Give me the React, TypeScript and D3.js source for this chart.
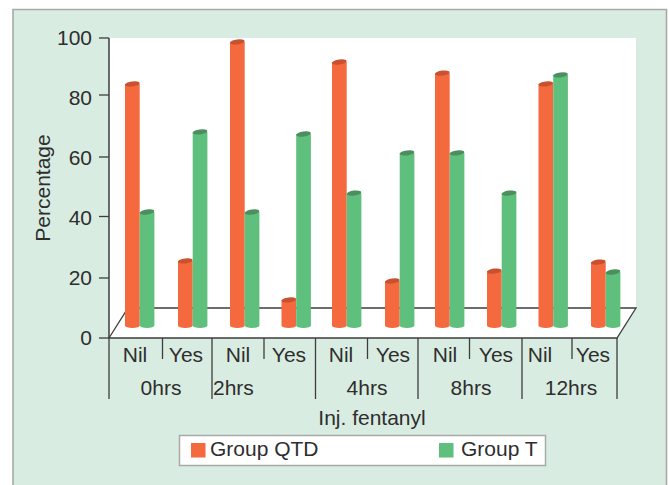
import React from "react";
import * as d3 from "d3";

const times = ["0hrs", "2hrs", "4hrs", "8hrs", "12hrs"];
const answers = ["Nil", "Yes", "Nil", "Yes", "Nil", "Yes", "Nil", "Yes", "Nil", "Yes"];
const groupQTD = [84.7, 25.7, 98.7, 12.7, 92, 19, 88.3, 22.3, 84.7, 25.3];
const groupT = [42, 68.7, 42, 68, 48.3, 61.7, 61.7, 48.3, 87.7, 22];
const yTicks = [0, 20, 40, 60, 80, 100];

const FONT = "'Liberation Sans', Arial, sans-serif";
const INK = "#2e2e2e";
const PANEL = "#d9ece1";
const BORDER = "#a8aaa9";
const ORANGE = "#f4693e";
const ORANGE_TOP = "#c9512f";
const GREEN = "#5fbf7c";
const GREEN_TOP = "#4c8f5e";

const plot = { left: 109, right: 617, top: 38, bottom: 338, depthX: 19, depthY: 30 };
const barWidth = 14.7;
const barFloor = 325.5;

const y = d3.scaleLinear().domain([0, 100]).range([plot.bottom, plot.top]);
const slots = d3.scaleBand<number>().domain(d3.range(10)).range([98.5, 616.5]);

// Hand-set layout: slot nudges, tick-mark drift and the dividers under the axis
const slotNudge = [0, 1.2, 1.4, 1.1, -0.2, 1, -0.8, -0.6, -0.9, -0.2];
const tickDrift = [0, 0, -1.5, -1, -3, 0];
const minorDividers = [162.5, 264, 367.5, 469.5, 572];
const majorDividers = [109, 212, 315.5, 418, 522, 617];
const answerLabelX = [135, 186, 238, 289, 341, 393, 445, 496, 540, 593];
const timeLabelX = [161, 213, 367, 471, 571];
const timeLabelAnchor = ["middle", "start", "middle", "middle", "middle"];

function Bar({ x, value, fill, top }: { x: number; value: number; fill: string; top: string }) {
  const yTop = y(value);
  const rx = barWidth / 2;
  const ry = 2.5;
  const d = `M${x},${yTop} L${x},${barFloor} A${rx},${ry} 0 0 0 ${x + barWidth},${barFloor} L${x + barWidth},${yTop} Z`;
  return (
    <g>
      <path d={d} fill={fill} />
      <ellipse
        cx={x + rx}
        cy={yTop}
        rx={rx}
        ry={ry}
        fill={top}
        transform={`rotate(-8 ${x + rx} ${yTop})`}
      />
    </g>
  );
}

export default function App() {
  const labelText = { fontFamily: FONT, fontSize: 21, fill: INK };
  const backY = plot.bottom - plot.depthY;
  const floor = `M${plot.left},${plot.bottom} L${plot.left + plot.depthX},${backY} L${plot.right + plot.depthX},${backY} L${plot.right},${plot.bottom} Z`;
  return (
    <svg
      width={669}
      height={485}
      viewBox="0 0 669 485"
      style={{ position: "absolute", left: 0, top: 0, background: "#fff" }}
    >
      <rect x={13} y={9.5} width={654} height={476} fill={PANEL} />
      <path d="M13,485 V9.5 H666.5 V485" fill="none" stroke={BORDER} strokeWidth={1.6} />
      <rect x={plot.left} y={plot.top} width={plot.right + plot.depthX - plot.left} height={plot.bottom - plot.top} fill="#fff" />
      <path d={`M${plot.right},${plot.bottom} L${plot.right + plot.depthX},${backY} L${plot.right + plot.depthX},${plot.bottom} Z`} fill={PANEL} />
      <path d={floor} fill="#fff" stroke="#3d3d3d" strokeWidth={1.3} />

      {groupQTD.map((v, i) => {
        const sx = (slots(i) as number) + 26.5 + slotNudge[i];
        return (
          <g key={i}>
            <Bar x={sx} value={v} fill={ORANGE} top={ORANGE_TOP} />
            <Bar x={sx + barWidth} value={groupT[i]} fill={GREEN} top={GREEN_TOP} />
          </g>
        );
      })}

      <line x1={plot.left} x2={plot.left} y1={plot.top} y2={plot.bottom} stroke="#3d3d3d" strokeWidth={1.5} />
      {yTicks.map((t, i) => (
        <g key={t}>
          <line x1={plot.left - 10} x2={plot.left} y1={y(t) + tickDrift[i]} y2={y(t) + tickDrift[i]} stroke="#3d3d3d" strokeWidth={1.3} />
          <text x={plot.left - 17} y={y(t) + 7} textAnchor="end" {...labelText}>
            {t}
          </text>
        </g>
      ))}
      <text transform="translate(50,188) rotate(-90)" textAnchor="middle" {...labelText}>
        Percentage
      </text>

      {minorDividers.map((x) => (
        <line key={x} x1={x} x2={x} y1={plot.bottom} y2={359} stroke="#3d3d3d" strokeWidth={1.3} />
      ))}
      {majorDividers.map((x) => (
        <line key={x} x1={x} x2={x} y1={plot.bottom} y2={399} stroke="#3d3d3d" strokeWidth={1.3} />
      ))}
      {answers.map((a, i) => (
        <text key={i} x={answerLabelX[i]} y={362} textAnchor="middle" {...labelText}>
          {a}
        </text>
      ))}
      {times.map((t, i) => (
        <text key={t} x={timeLabelX[i]} y={395} textAnchor={timeLabelAnchor[i] as "middle" | "start"} {...labelText}>
          {t}
        </text>
      ))}
      <text x={372} y={425} textAnchor="middle" {...labelText}>
        Inj. fentanyl
      </text>

      <rect x={179.5} y={435.5} width={366} height={30} fill="#fff" stroke={BORDER} strokeWidth={1.5} />
      <rect x={191} y={443} width={14.5} height={14.5} fill={ORANGE} />
      <text x={210} y={456} {...labelText}>
        Group QTD
      </text>
      <rect x={439} y={443} width={14.5} height={14.5} fill={GREEN} />
      <text x={461} y={456} {...labelText}>
        Group T
      </text>
    </svg>
  );
}
